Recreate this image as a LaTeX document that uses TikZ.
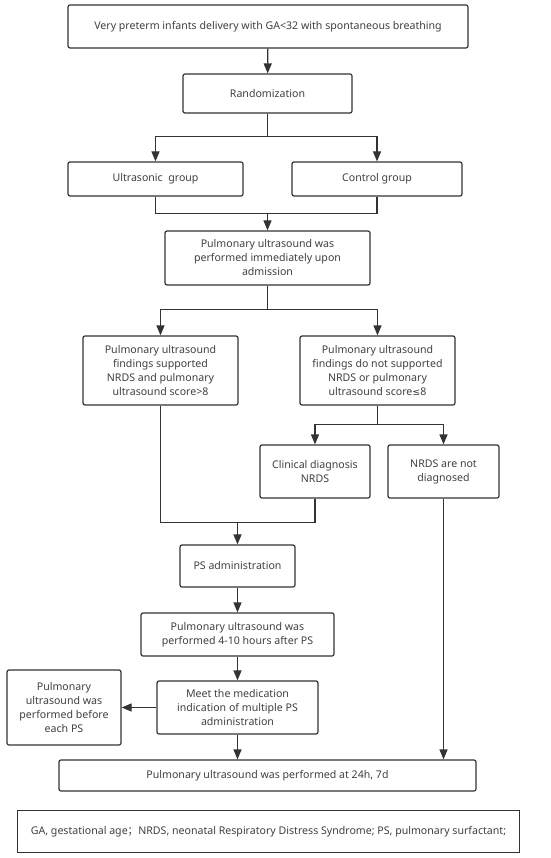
\documentclass[tikz,border=0pt]{standalone}
\usepackage{fontspec}
\setmainfont{Noto Sans}
\newfontfamily\cjkfont{Noto Sans CJK SC}
\newfontfamily\symfont{DejaVu Sans}
\usetikzlibrary{arrows.meta}
\definecolor{linec}{HTML}{333333}
\definecolor{textc}{HTML}{404040}
\begin{document}
\begin{tikzpicture}[x=1pt,y=-1pt,
  box/.style={draw=linec,line width=1.2pt,rounded corners=2pt,align=center,text=textc,
    font=\fontsize{10.6}{14}\selectfont,inner sep=2pt},
  conn/.style={draw=linec,line width=1.2pt},
  arr/.style={conn,-{Triangle[length=10pt,width=8pt]}}]
\useasboundingbox (0,0) rectangle (550,858);
\fill[white] (0,0) rectangle (550,858);
\node[box,minimum width=400pt,minimum height=43pt] (top) at (268,26.5) {Very preterm infants delivery with GA<32 with spontaneous breathing};
\node[box,minimum width=169pt,minimum height=39pt] (rand) at (267.5,93.5) {Randomization};
\node[box,minimum width=175pt,minimum height=34pt] (ultra) at (155.5,179) {Ultrasonic\ \ group};
\node[box,minimum width=170pt,minimum height=34pt] (ctrl) at (377,179) {Control group};
\node[box,minimum width=205pt,minimum height=54pt] (imm) at (267.5,258) {Pulmonary ultrasound was\\performed immediately upon\\admission};
\node[box,minimum width=155pt,minimum height=69pt] (sup) at (160.5,370.5) {Pulmonary ultrasound\\findings supported\\NRDS and pulmonary\\ultrasound score>8};
\node[box,minimum width=155pt,minimum height=69pt] (nsup) at (377.5,370.5) {Pulmonary ultrasound\\findings do not supported\\NRDS or pulmonary\\ultrasound score{\symfont\fontsize{9.5}{14}\selectfont ≤}8};
\node[box,minimum width=110pt,minimum height=53pt] (clin) at (315,471.5) {Clinical diagnosis\\NRDS};
\node[box,minimum width=111pt,minimum height=53pt] (notdx) at (443.5,471.5) {NRDS are not\\diagnosed};
\node[box,minimum width=115pt,minimum height=42pt] (ps) at (237.5,566) {PS administration};
\node[box,minimum width=193pt,minimum height=43pt] (p410) at (237.5,634.5) {Pulmonary ultrasound was\\performed 4-10 hours after PS};
\node[box,minimum width=161pt,minimum height=53pt] (meet) at (237.5,707.5) {Meet the medication\\indication of multiple PS\\administration};
\node[box,minimum width=114pt,minimum height=75pt] (before) at (64,707.5) {Pulmonary\\ultrasound was\\performed before\\each PS};
\node[box,minimum width=417pt,minimum height=31pt] (final) at (267.5,775.5) {Pulmonary ultrasound was performed at 24h, 7d};
\node[box,rounded corners=0pt,minimum width=502pt,minimum height=42pt] (foot) at (268.5,831.5) {GA, gestational age{\cjkfont ；}NRDS, neonatal Respiratory Distress Syndrome; PS, pulmonary surfactant;};
\coordinate (j1) at (267.5,136.5);
\coordinate (j2) at (267.5,213.5);
\coordinate (j3) at (267.5,309.5);
\coordinate (j4) at (377.5,424.5);
\coordinate (j5) at (237.5,522.5);
\draw[arr] (top) -- (rand);
\draw[conn] (rand) -- (j1);
\draw[arr] (j1) -| (ultra.north);
\draw[arr] (j1) -| (ctrl.north);
\draw[conn] (ultra.south) |- (j2);
\draw[conn] (ctrl.south) |- (j2);
\draw[arr] (j2) -- (imm.north);
\draw[conn] (imm) -- (j3);
\draw[arr] (j3) -| (sup.north);
\draw[arr] (j3) -| (nsup.north);
\draw[conn] (nsup) -- (j4);
\draw[arr] (j4) -| (clin.north);
\draw[arr] (j4) -| (notdx.north);
\draw[conn] (sup.south) |- (j5);
\draw[conn] (clin.south) |- (j5);
\draw[arr] (j5) -- (ps.north);
\draw[arr] (ps) -- (p410);
\draw[arr] (p410) -- (meet);
\draw[arr] (meet.west) -- (before.east);
\draw[arr] (meet.south) -- (meet.south |- final.north);
\draw[arr] (notdx.south) -- (notdx.south |- final.north);
\end{tikzpicture}
\end{document}
